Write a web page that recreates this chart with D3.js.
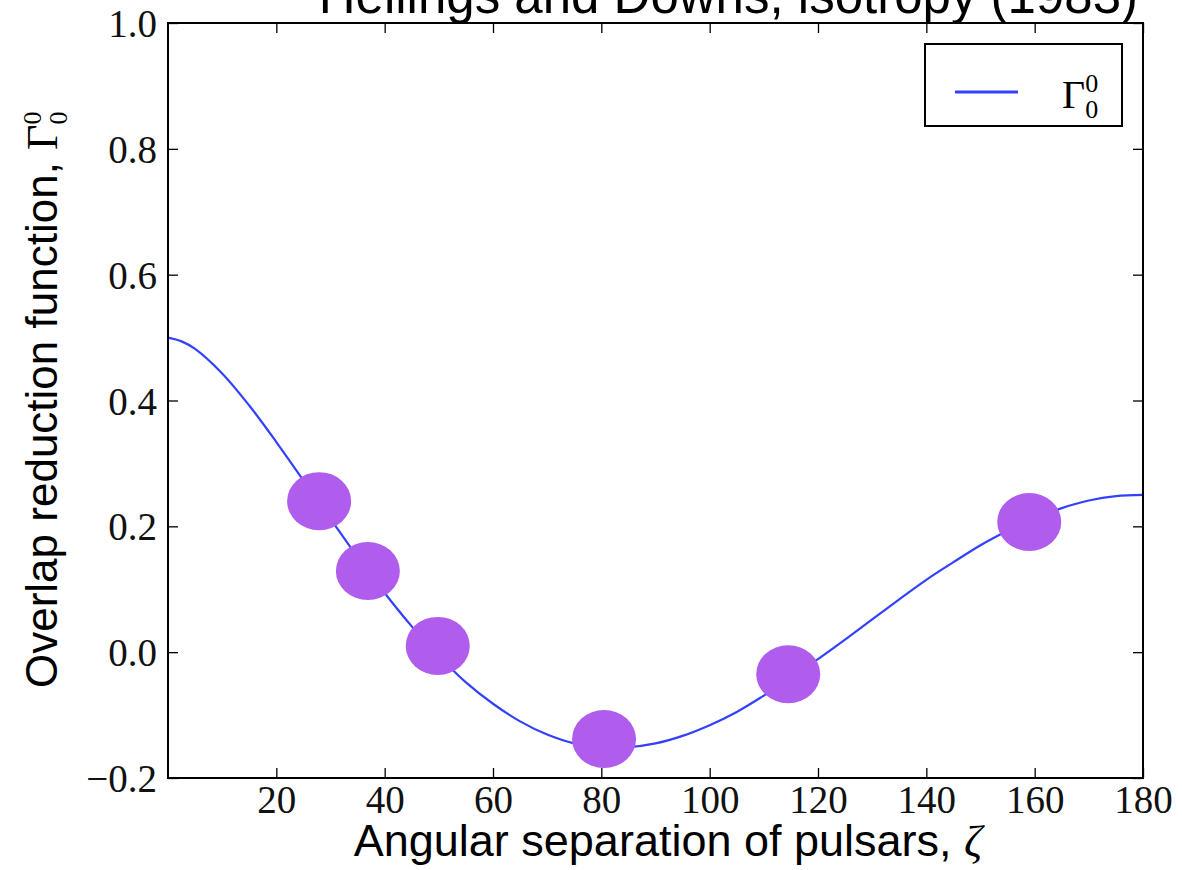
<!DOCTYPE html>
<html>
<head>
<meta charset="utf-8">
<script src="https://cdn.jsdelivr.net/npm/d3@7"></script>
<style>
  body { margin: 0; background: #fff; }
</style>
</head>
<body>
<div id="chart"></div>
<script>
// Hellings and Downs curve
var curveZeta = [0, 2.5, 5, 10, 15, 20, 25, 30, 35, 40, 45, 50, 55, 60, 65, 70, 75, 80, 85, 90,
                 95, 100, 105, 110, 115, 120, 125, 130, 135, 140, 145, 150, 155, 160, 165, 170, 175, 180];
var curveGamma = [0.500, 0.494, 0.482, 0.443, 0.392, 0.334, 0.273, 0.212, 0.151, 0.094, 0.041, -0.006,
                  -0.048, -0.082, -0.110, -0.131, -0.145, -0.151, -0.151, -0.145, -0.133, -0.116,
                  -0.095, -0.069, -0.041, -0.011, 0.020, 0.052, 0.084, 0.115, 0.143, 0.170,
                  0.193, 0.213, 0.229, 0.241, 0.248, 0.250];

// the purple pulsar-pair blobs
var pulsarZeta = [27.9, 36.9, 49.8, 80.5, 114.5, 159.0];
var pulsarGamma = [0.240, 0.129, 0.010, -0.138, -0.035, 0.207];

var xTicks = [20, 40, 60, 80, 100, 120, 140, 160, 180];
var yTicks = [-0.2, 0, 0.2, 0.4, 0.6, 0.8, 1.0];

var W = 1182, H = 870;
var margin = { top: 23, right: 39, bottom: 92, left: 168 };

var svg = d3.select("#chart").append("svg")
    .attr("width", W)
    .attr("height", H);

var x = d3.scaleLinear().domain([0, 180]).range([margin.left, W - margin.right]);
var y = d3.scaleLinear().domain([-0.2, 1.0]).range([H - margin.bottom, margin.top]);

var serif = "'Liberation Serif', 'DejaVu Serif', serif";
var sans = "'Liberation Sans', Arial, sans-serif";

// title (cut off at the top of the image)
svg.append("text")
    .attr("x", 1138)
    .attr("y", 13)
    .attr("text-anchor", "end")
    .style("font-family", sans)
    .style("font-size", "51px")
    .text("Hellings and Downs, isotropy (1983)");

// curve
var line = d3.line()
    .x(function (d, i) { return x(curveZeta[i]); })
    .y(function (d) { return y(d); })
    .curve(d3.curveCatmullRom.alpha(0.5));

var plot = svg.append("g");
plot.append("clipPath").attr("id", "clip")
    .append("rect")
    .attr("x", x(0)).attr("y", y(1))
    .attr("width", x(180) - x(0)).attr("height", y(-0.2) - y(1));

plot.append("path")
    .datum(curveGamma)
    .attr("d", line)
    .attr("clip-path", "url(#clip)")
    .style("fill", "none")
    .style("stroke", "#3341ff")
    .style("stroke-width", 2.2);

plot.selectAll("ellipse")
    .data(pulsarZeta)
    .enter()
    .append("ellipse")
    .attr("cx", function (d) { return x(d); })
    .attr("cy", function (d, i) { return y(pulsarGamma[i]); })
    .attr("rx", 32)
    .attr("ry", 29)
    .style("fill", "#b05cec");

// axes, ticks pointing inward on all four sides
var tickLen = 10;
var bottomAxis = svg.append("g")
    .attr("transform", "translate(0," + y(-0.2) + ")")
    .call(d3.axisBottom(x).tickValues(xTicks).tickSizeInner(-tickLen).tickSizeOuter(0).tickPadding(7));
var topAxis = svg.append("g")
    .attr("transform", "translate(0," + y(1) + ")")
    .call(d3.axisTop(x).tickValues(xTicks).tickSizeInner(-tickLen).tickSizeOuter(0).tickFormat(""));
var leftAxis = svg.append("g")
    .attr("transform", "translate(" + x(0) + ",0)")
    .call(d3.axisLeft(y).tickValues(yTicks).tickSizeInner(-tickLen).tickSizeOuter(0).tickPadding(11)
        .tickFormat(function (d) { return d3.format(".1f")(d).replace("-", "\u2212"); }));
var rightAxis = svg.append("g")
    .attr("transform", "translate(" + x(180) + ",0)")
    .call(d3.axisRight(y).tickValues(yTicks).tickSizeInner(-tickLen).tickSizeOuter(0).tickFormat(""));

svg.selectAll(".domain").remove();
svg.selectAll(".tick line").style("stroke", "#000").style("stroke-width", 1.3);
svg.selectAll(".tick text")
    .style("font-family", serif)
    .style("font-size", "39px")
    .style("fill", "#111");
leftAxis.selectAll(".tick text").attr("dy", "0.35em");

// frame
svg.append("rect")
    .attr("x", x(0)).attr("y", y(1))
    .attr("width", x(180) - x(0)).attr("height", y(-0.2) - y(1))
    .style("fill", "none")
    .style("stroke", "#000")
    .style("stroke-width", 2);

// x label
var xl = svg.append("text")
    .attr("x", 668)
    .attr("y", 856)
    .attr("text-anchor", "middle")
    .style("font-family", sans)
    .style("font-size", "45px");
xl.append("tspan").text("Angular separation of pulsars, ");
xl.append("tspan").style("font-family", serif).style("font-style", "italic").text("\u03b6");

// y label
var yl = svg.append("text")
    .attr("transform", "translate(57,688) rotate(-90)")
    .attr("text-anchor", "start")
    .style("font-family", sans)
    .style("font-size", "44px");
yl.append("tspan").text("Overlap reduction function, ");
yl.append("tspan").style("font-family", serif).text("\u0393");
yl.append("tspan").style("font-family", serif).style("font-size", "26px").attr("dy", -16).text("0");
yl.append("tspan").style("font-family", serif).style("font-size", "26px").attr("dx", -13).attr("dy", 26).text("0");

// legend
var lg = svg.append("g");
lg.append("rect")
    .attr("x", 925).attr("y", 44)
    .attr("width", 197).attr("height", 82)
    .style("fill", "#fff")
    .style("stroke", "#000")
    .style("stroke-width", 2);
lg.append("line")
    .attr("x1", 955).attr("x2", 1018)
    .attr("y1", 92).attr("y2", 92)
    .style("stroke", "#3341ff")
    .style("stroke-width", 3);
var lt = lg.append("text")
    .attr("x", 1062).attr("y", 108)
    .style("font-family", serif)
    .style("font-size", "40px");
lt.append("tspan").text("\u0393");
lt.append("tspan").style("font-size", "26px").attr("dy", -16).text("0");
lt.append("tspan").style("font-size", "26px").attr("dx", -13).attr("dy", 26).text("0");
</script>
</body>
</html>
